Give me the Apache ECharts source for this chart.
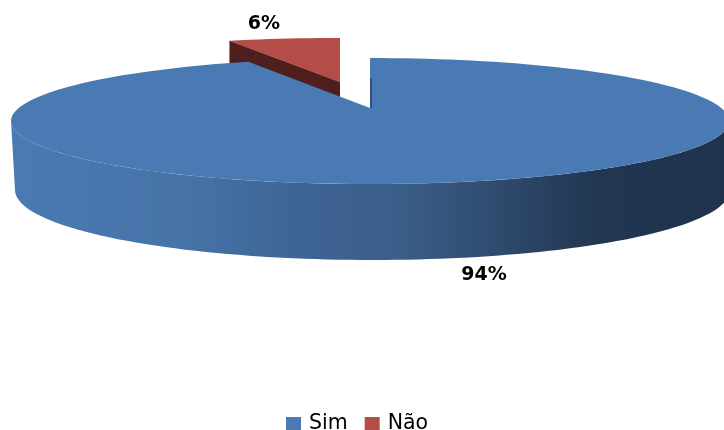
<!DOCTYPE html>
<html><head><meta charset="utf-8">
<style>html,body{margin:0;padding:0;background:#fff}#c{width:724px;height:430px}</style>
<script src="https://cdn.jsdelivr.net/npm/echarts@6/dist/echarts.min.js"></script>
</head><body><div id="c"></div>
<script>
const categories = ['Sim', 'Não'];
const values = [94, 6];
const colors = ['#4a7ab3', '#b44c48'];
const total = values.reduce((a, b) => a + b, 0);

const rad = d => d * Math.PI / 180;
// rear angles are compressed by the perspective of the disc
const warp = d => d - 2.6 * Math.sin(rad(2 * d));
const rimPoint = (e, d) => {
  const p = rad(warp(d));
  return [e.cx + e.rx * Math.sin(p), e.cy - e.ry * Math.cos(p)];
};
const arc = (e, a, b) => {
  const out = [], n = Math.max(8, Math.ceil(Math.abs(b - a) / 2));
  for (let i = 0; i <= n; i++) out.push(rimPoint(e, a + (b - a) * i / n));
  return out;
};
const poly = (points, fill, extra) => Object.assign({
  type: 'polygon', silent: true, shape: { points }, style: { fill }
}, extra || {});
const label = (text, x, y) => ({
  type: 'text', silent: true, x, y,
  style: { text, fill: '#000', font: 'bold 19px "DejaVu Sans"', align: 'center', verticalAlign: 'middle' }
});

function renderSim(params, api) {
  const sweep = api.value(0) / total * 360;
  const apex = [370, 108];
  const top = { cx: 370, cy: 121, rx: 359, ry: 63 };
  const bottom = { cx: 372.5, cy: 190, rx: 357.5, ry: 70 };
  const wall = new echarts.graphic.LinearGradient(0, 0, 1, 0, [
    { offset: 0, color: '#4a7ab3' },
    { offset: 0.235, color: '#4674a8' },
    { offset: 0.388, color: '#3f6596' },
    { offset: 0.54, color: '#3a5e88' },
    { offset: 0.68, color: '#2f4a6e' },
    { offset: 0.82, color: '#213650' },
    { offset: 1, color: '#1f334d' }
  ]);
  return { type: 'group', children: [
    poly(arc(top, 90, 270).concat(arc(bottom, 270, 90)), wall),
    poly([apex].concat(arc(top, 0, sweep)), colors[0]),
    { type: 'line', silent: true,
      shape: { x1: apex[0] + 1, y1: apex[1], x2: apex[0] + 1, y2: apex[1] - 30 },
      style: { stroke: '#1f354f', lineWidth: 1.2 } },
    label(api.value(0) + '%', 484, 275)
  ]};
}

function renderNao(params, api) {
  const sweep = api.value(0) / total * 360;
  const apex = [340, 82];
  const rim = { cx: 340, cy: 84, rx: 326, ry: 46 };
  const depth = 23;
  const start = rimPoint(rim, 360 - sweep);
  return { type: 'group', children: [
    poly([apex].concat(arc(rim, 360 - sweep, 360)), colors[1]),
    poly([start, apex, [apex[0], apex[1] + depth], [start[0], start[1] + depth]], '#4f1f1e'),
    label(api.value(0) + '%', 264, 24)
  ]};
}

const chart = echarts.init(document.getElementById('c'), null, { renderer: 'canvas' });
chart.setOption({
  animation: false,
  backgroundColor: '#fff',
  legend: {
    data: categories,
    left: 281, top: 408,
    icon: 'rect', itemWidth: 15, itemHeight: 13, itemGap: 17,
    textStyle: { color: '#000', fontFamily: 'DejaVu Sans', fontSize: 20.5, padding: [0, 0, 0, 3] }
  },
  series: [
    { type: 'custom', name: categories[0], coordinateSystem: 'none', z: 3,
      itemStyle: { color: colors[0] }, data: [[values[0]]], renderItem: renderSim },
    { type: 'custom', name: categories[1], coordinateSystem: 'none', z: 2,
      itemStyle: { color: colors[1] }, data: [[values[1]]], renderItem: renderNao }
  ]
});
</script></body></html>
